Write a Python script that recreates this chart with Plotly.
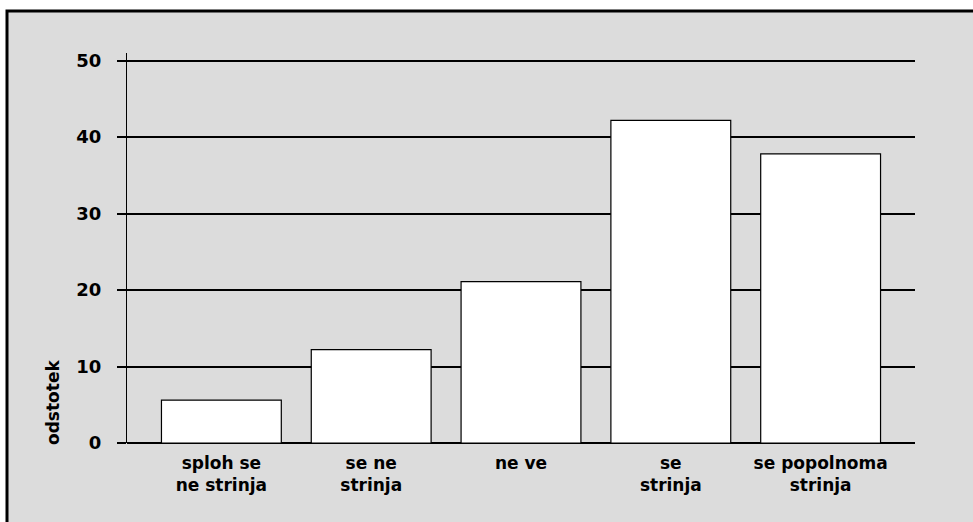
import plotly.graph_objects as go

# Survey answers and share of respondents (%)
categories = ["sploh se<br>ne strinja", "se ne<br>strinja", "ne ve", "se<br>strinja", "se popolnoma<br>strinja"]
values = [5.6, 12.2, 21.1, 42.2, 37.8]
y_ticks = [0, 10, 20, 30, 40, 50]
y_title = "odstotek"

W, H = 973, 522
L, R, T, B = 127, 58, 53, 79
plot_w = W - L - R
plot_h = H - T - B

def px_x(p):
    return (p - L) / plot_w

def px_y(p):
    return (H - B - p) / plot_h

font_family = "DejaVu Sans"

fig = go.Figure(
    go.Bar(
        x=categories,
        y=values,
        width=0.8,
        marker=dict(color="white", line=dict(color="black", width=1.2)),
    )
)

fig.update_layout(
    width=W,
    height=H,
    margin=dict(l=L, r=R, t=T, b=B, pad=0),
    paper_bgcolor="white",
    plot_bgcolor="rgba(0,0,0,0)",
    showlegend=False,
    font=dict(family=font_family, color="black"),
    shapes=[
        dict(
            type="rect", xref="paper", yref="paper",
            x0=px_x(7), x1=px_x(990), y0=px_y(540), y1=px_y(11),
            fillcolor="#dcdcdc", line=dict(color="black", width=3),
            layer="below",
        )
    ],
    annotations=[
        dict(
            text="<b>%s</b>" % y_title, xref="paper", yref="paper",
            x=px_x(53), y=px_y(403), xanchor="center", yanchor="middle",
            textangle=-90, showarrow=False,
            font=dict(size=17, family=font_family, color="black"),
        )
    ],
)

fig.update_xaxes(
    type="category",
    range=[-0.63, 4.63],
    showgrid=False,
    showline=False,
    zeroline=False,
    ticks="",
    tickfont=dict(size=17, family=font_family, color="black", weight="bold"),
    ticklabelstandoff=8,
)

fig.update_yaxes(
    range=[0, 51],
    tickvals=y_ticks,
    showgrid=True,
    gridcolor="black",
    gridwidth=2,
    zeroline=True,
    zerolinecolor="black",
    zerolinewidth=2,
    showline=True,
    linecolor="black",
    linewidth=1,
    ticks="outside",
    ticklen=9,
    tickwidth=1.5,
    tickcolor="black",
    tickfont=dict(size=18, family=font_family, color="black", weight="bold"),
    ticklabelstandoff=12,
)

fig.write_html("out.html")
